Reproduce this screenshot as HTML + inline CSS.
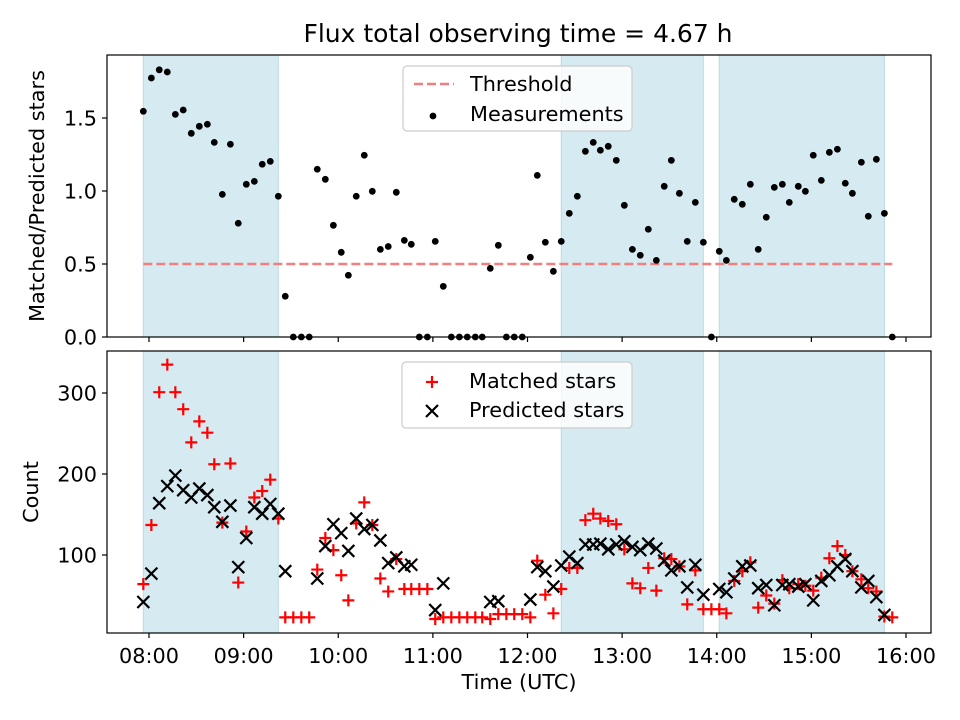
<!DOCTYPE html>
<html><head><meta charset="utf-8"><style>
html,body{margin:0;padding:0;background:#fff;}
svg{display:block;font-family:"DejaVu Sans","Liberation Sans",sans-serif;}
</style></head><body>
<svg id="chart" width="960" height="720" viewBox="0 0 960 720" xmlns="http://www.w3.org/2000/svg">
<rect width="960" height="720" fill="#fff"/>
<text x="518" y="42" font-size="25" text-anchor="middle" fill="#000">Flux total observing time = 4.67 h</text>
<g id="topPanel"></g>
<g id="botPanel"></g>
</svg>
<script>
// minutes since 08:00 UTC
const times = [-3.6,1.5,6.5,11.6,16.7,21.7,26.8,31.9,37.0,41.4,46.5,51.6,56.6,61.7,66.8,71.8,76.9,82.0,86.4,91.5,96.6,101.6,106.7,111.8,116.9,121.9,126.4,131.4,136.5,141.6,146.7,151.7,156.8,161.9,166.3,171.4,176.5,181.5,186.6,191.7,196.8,201.8,206.9,211.3,216.4,221.5,226.6,231.6,236.7,241.8,246.2,251.3,256.4,261.4,266.5,271.6,276.7,281.7,286.2,291.2,296.3,301.4,306.5,311.5,316.6,321.7,326.7,331.2,336.3,341.3,346.4,351.5,356.6,361.6,366.1,371.1,376.2,381.3,386.3,391.4,396.5,401.6,406.0,411.7,416.2,421.2,426.3,431.4,436.5,441.5,446.0,451.7,456.1,461.2,466.3,471.3];
const ratio = [1.546,1.774,1.83,1.815,1.525,1.555,1.395,1.443,1.457,1.333,0.977,1.32,0.779,1.046,1.066,1.183,1.203,0.964,0.279,0,0,0,1.149,1.08,0.765,0.58,0.423,0.964,1.245,0.998,0.60,0.62,0.991,0.662,0.635,0,0,0.655,0.347,0,0,0,0,0,0.47,0.628,0,0,0,0.546,1.107,0.649,0.45,0.655,0.847,0.964,1.272,1.333,1.279,1.306,1.21,0.902,0.60,0.56,0.738,0.525,1.032,1.21,0.984,0.655,0.922,0.649,0,0.587,0.525,0.943,0.909,1.046,0.60,0.82,1.025,1.046,0.922,1.032,0.998,1.245,1.073,1.265,1.286,1.053,0.984,1.197,0.827,1.217,0.847,0];
const matched = [64,137,301,335,301,280,239,265,251,212,140,213,66,129,171,179,193,145,23,23,23,23,82,121,106,75,44,139,165,137,71,55,95,58,58,58,58,21,23,23,23,23,23,23,21,27,27,27,27,23,93,51,28,58,84,84,143,151,145,142,138,107,65,59,84,56,96,95,86,39,81,33,33,33,28,68,80,91,35,50,40,69,59,64,62,56,72,96,111,100,80,70,59,55,24,23];
const predicted = [42,77,164,185,198,180,171,182,174,159,141,161,85,121,159,151,163,151,80,null,null,null,71,111,138,127,105,145,132,137,118,90,97,86,88,null,null,32,65,null,null,null,null,null,42,43,null,null,null,45,85,80,61,87,98,90,113,113,114,107,113,117,110,106,114,108,93,81,86,60,88,51,null,58,54,71,86,87,59,63,38,63,64,61,64,44,68,75,86,95,80,60,68,48,26,null];
const spans = [[-3.6,82.0],[261.4,351.5],[361.6,466.3]];
const threshold = 0.5;
const xTickLabels = ["08:00","09:00","10:00","11:00","12:00","13:00","14:00","15:00","16:00"];
const ratioTicks = [0.0,0.5,1.0,1.5];
const countTicks = [100,200,300];

const NS = "http://www.w3.org/2000/svg";
const X0 = 107, X1 = 931;
const xs = m => 149 + m * 94.625 / 60;
const yTop = v => 337 - v * 146;
const yBot = v => 636 - v * 0.81;
function mk(tag, attrs, parent) {
  const e = document.createElementNS(NS, tag);
  for (const k in attrs) e.setAttribute(k, attrs[k]);
  parent.appendChild(e);
  return e;
}
function panel(g, y0, y1, yfn, ticks, fmt, label, labelX) {
  for (const s of spans) {
    const r = mk("rect", {x: xs(s[0]), y: y0, width: xs(s[1]) - xs(s[0]), height: y1 - y0, fill: "#d5eaf1", stroke: "#b9dbe6", "stroke-width": 1}, g);
    
    
  }
  for (const t of ticks) {
    const y = yfn(t);
    const l = mk("line", {x1: X0 - 5, x2: X0, y1: y, y2: y, stroke: "#000", "stroke-width": 1.2}, g);
    
    
    const tx = mk("text", {x: X0 - 10, y: y + 7.5, "font-size": 20.8, "text-anchor": "end"}, g);
    tx.textContent = fmt(t);
    
    
  }
  xTickLabels.forEach((lab, i) => {
    const x = xs(i * 60);
    const l = mk("line", {x1: x, x2: x, y1: y1, y2: y1 + 5, stroke: "#000", "stroke-width": 1.2}, g);
    
    
  });
  const yl = mk("text", {x: 0, y: 0, "font-size": 20.8, "text-anchor": "middle", transform: `translate(${labelX},${(y0 + y1) / 2}) rotate(-90)`}, g);
  yl.textContent = label;
  
  
}
function frame(g, y0, y1) {
  const r = mk("rect", {x: X0, y: y0, width: X1 - X0, height: y1 - y0, fill: "none", stroke: "#000", "stroke-width": 1.2}, g);
  
  
}
function plus(g, x, y) {
  return mk("path", {d: `M${x - 6} ${y}H${x + 6}M${x} ${y - 6}V${y + 6}`, stroke: "#ff0000", "stroke-width": 2.2, fill: "none"}, g);
}
function cross(g, x, y) {
  return mk("path", {d: `M${x - 6} ${y - 6}L${x + 6} ${y + 6}M${x - 6} ${y + 6}L${x + 6} ${y - 6}`, stroke: "#000", "stroke-width": 2.2, fill: "none"}, g);
}

// TOP PANEL
const topG = document.getElementById("topPanel");
panel(topG, 55, 337, yTop, ratioTicks, v => v.toFixed(1), "Matched/Predicted stars", 44);
const th = mk("line", {x1: xs(times[0]), x2: xs(times[times.length - 1]), y1: yTop(threshold), y2: yTop(threshold), stroke: "#f08080", "stroke-width": 2.5, "stroke-dasharray": "9,4"}, topG);


times.forEach((t, i) => {
  const c = mk("circle", {cx: xs(t), cy: yTop(ratio[i]), r: 3.4, fill: "#000"}, topG);
  
  
});
frame(topG, 55, 337);
const lg1 = mk("g", {}, topG);


mk("rect", {x: 403, y: 66, width: 229, height: 65, rx: 4, fill: "#fff", "fill-opacity": 0.8, stroke: "#ccc", "stroke-width": 1.2}, lg1);
mk("line", {x1: 414, x2: 454, y1: 84, y2: 84, stroke: "#f08080", "stroke-width": 2.5, "stroke-dasharray": "9,4"}, lg1);
mk("circle", {cx: 433, cy: 116, r: 3.4, fill: "#000"}, lg1);
const lt1 = mk("text", {x: 470, y: 91, "font-size": 20.8}, lg1); lt1.textContent = "Threshold";


const lt2 = mk("text", {x: 470, y: 121, "font-size": 20.8}, lg1); lt2.textContent = "Measurements";



// BOTTOM PANEL
const botG = document.getElementById("botPanel");
panel(botG, 351, 633, yBot, countTicks, v => String(v), "Count", 38);
times.forEach((t, i) => {
  if (matched[i] !== null) {
    const p = plus(botG, xs(t), yBot(matched[i]));
    
    
  }
});
times.forEach((t, i) => {
  if (predicted[i] !== null) {
    const p = cross(botG, xs(t), yBot(predicted[i]));
    
    
  }
});
frame(botG, 351, 633);
xTickLabels.forEach((lab, i) => {
  const tx = mk("text", {x: xs(i * 60), y: 663, "font-size": 20.8, "text-anchor": "middle"}, botG);
  tx.textContent = lab;
  
  
});
const xl = mk("text", {x: 519, y: 689, "font-size": 20.8, "text-anchor": "middle"}, botG);
xl.textContent = "Time (UTC)";


const lg2 = mk("g", {}, botG);


mk("rect", {x: 402, y: 362, width: 230, height: 66, rx: 4, fill: "#fff", "fill-opacity": 0.8, stroke: "#ccc", "stroke-width": 1.2}, lg2);
plus(lg2, 432, 382);
cross(lg2, 432, 411);
const lt3 = mk("text", {x: 469, y: 388, "font-size": 20.8}, lg2); lt3.textContent = "Matched stars";


const lt4 = mk("text", {x: 469, y: 417, "font-size": 20.8}, lg2); lt4.textContent = "Predicted stars";


</script>
</body></html>
